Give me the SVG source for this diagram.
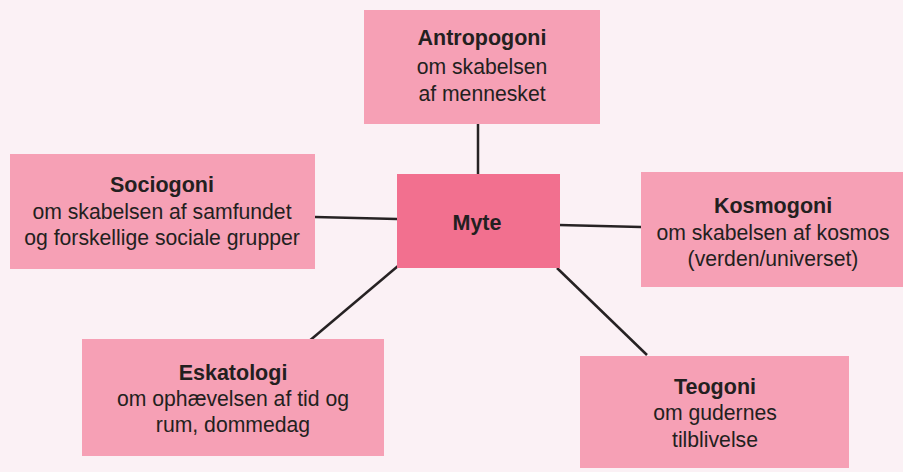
<svg xmlns="http://www.w3.org/2000/svg" width="903" height="472" viewBox="0 0 903 472">
<style>
.bg{fill:#FBF1F5}
.box{fill:#F6A0B5}
.core{fill:#F2708F}
text{font-family:"Liberation Sans",Arial,sans-serif;font-size:21.2px;fill:#231F20;text-anchor:middle}
.t{font-weight:bold;font-size:21.5px}
.conn line{stroke:#262223;stroke-width:2.5;stroke-linecap:butt}
</style>
<rect class="bg" x="0" y="0" width="903" height="472"/>
<g class="conn" id="connectors">
<line x1="478" y1="124" x2="478" y2="175"/>
<line x1="315" y1="217" x2="397" y2="219"/>
<line x1="559" y1="225" x2="641" y2="227"/>
<line x1="398" y1="266" x2="308" y2="342"/>
<line x1="557" y1="268" x2="647" y2="355"/>
</g>
<g id="antropogoni">
<rect class="box" x="364" y="10" width="236" height="114"/>
<text class="t" x="482" y="45">Antropogoni</text>
<text x="482" y="74">om skabelsen</text>
<text x="482" y="101">af mennesket</text>
</g>
<g id="myte">
<rect class="core" x="397" y="174" width="163" height="94"/>
<text class="t" x="477" y="230">Myte</text>
</g>
<g id="sociogoni">
<rect class="box" x="10" y="154" width="305" height="115"/>
<text class="t" x="162" y="192">Sociogoni</text>
<text x="162" y="219">om skabelsen af samfundet</text>
<text x="162" y="245">og forskellige sociale grupper</text>
</g>
<g id="kosmogoni">
<rect class="box" x="641" y="172" width="262" height="115"/>
<text class="t" x="773" y="213">Kosmogoni</text>
<text x="773" y="240">om skabelsen af kosmos</text>
<text x="773" y="266">(verden/universet)</text>
</g>
<g id="eskatologi">
<rect class="box" x="82" y="339" width="302" height="117"/>
<text class="t" x="233" y="380">Eskatologi</text>
<text x="233" y="406">om ophævelsen af tid og</text>
<text x="233" y="432">rum, dommedag</text>
</g>
<g id="teogoni">
<rect class="box" x="580" y="356" width="269" height="112"/>
<text class="t" x="715" y="394">Teogoni</text>
<text x="715" y="420">om gudernes</text>
<text x="715" y="447">tilblivelse</text>
</g>
</svg>
